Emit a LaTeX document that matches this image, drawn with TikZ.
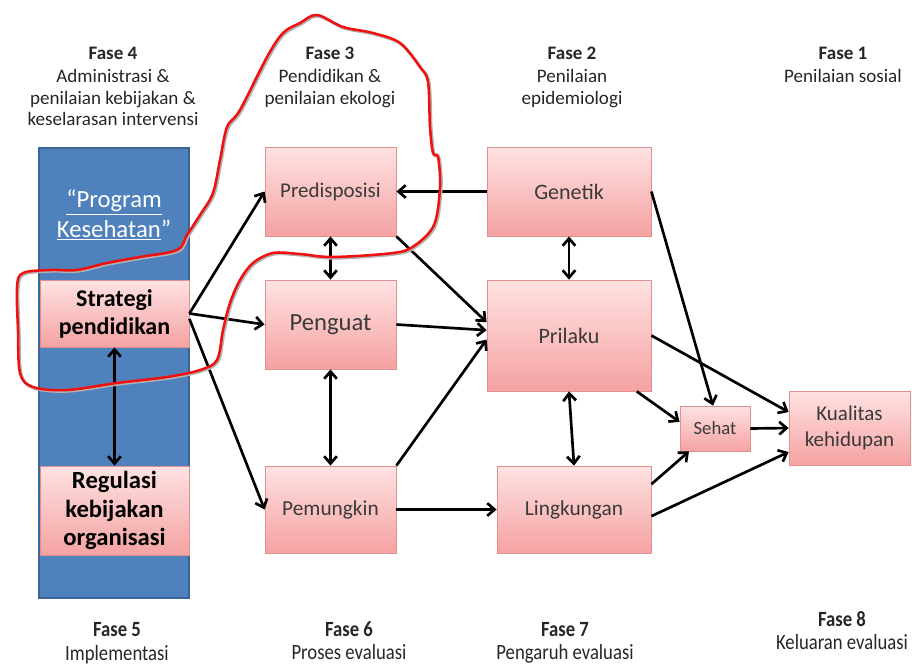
\documentclass[tikz,border=0pt]{standalone}
\usepackage{fontspec}
\setmainfont{Carlito}
\newfontfamily\condfont{Carlito}[FakeStretch=0.86]
\usetikzlibrary{arrows.meta,shadows,calc}
\definecolor{pinkTop}{HTML}{FFE2E2}
\definecolor{pinkBot}{HTML}{F5A2A2}
\definecolor{pinkLine}{HTML}{E09090}
\definecolor{blueFill}{HTML}{4F81BD}
\definecolor{blueLine}{HTML}{3B6598}
\definecolor{txt}{HTML}{3A3A3A}
\definecolor{redline}{HTML}{F01010}
\tikzset{
  box/.style={draw=pinkLine, line width=0.6pt, top color=pinkTop, bottom color=pinkBot,
    inner sep=0pt, align=center, text=txt,
    drop shadow={opacity=0.18, shadow xshift=0.9pt, shadow yshift=-0.9pt}},
  bbox/.style={box, text=black},
  hdr/.style={anchor=base, inner sep=0pt, text=black!85, font=\fontsize{14.3}{16}\selectfont},
  ftr/.style={anchor=base, inner sep=0pt, text=black!85, font=\condfont\fontsize{16.3}{17}\selectfont},
  arr/.style={line width=2pt, -{Straight Barb[length=5.5pt,width=9.5pt]}},
  darr/.style={line width=2pt, {Straight Barb[length=5.5pt,width=9.5pt]}-{Straight Barb[length=5.5pt,width=9.5pt]}},
}
\begin{document}
\begin{tikzpicture}[x=0.75pt,y=-0.75pt]
\useasboundingbox (0,0) rectangle (912,665);
\clip (0,0) rectangle (912,665);

% blue column
\draw[draw=blueLine, line width=0.8pt, fill=blueFill] (39,148) rectangle (189,598);
\node[text=white, align=center, inner sep=0pt, font=\fontsize{18.5}{22}\selectfont] (prog) at (114,215)
  {\underline{“Program}\\\underline{Kesehatan}”};

% boxes
\node[bbox, minimum width=111.75pt, minimum height=50.25pt, font=\bfseries\fontsize{18}{21}\selectfont] (strat) at (114.5,313.5) {Strategi\\pendidikan};
\node[bbox, minimum width=111.75pt, minimum height=66.75pt, font=\bfseries\fontsize{18.5}{21.5}\selectfont] (reg) at (114.5,510.5) {Regulasi\\kebijakan\\organisasi};
\node[box, minimum width=98.25pt, minimum height=66.75pt, font=\fontsize{15.75}{18}\selectfont] (pred) at (330.5,191.5) {Predisposisi};
\node[box, minimum width=98.25pt, minimum height=66.75pt, font=\fontsize{18.5}{21}\selectfont] (peng) at (330.5,324.5) {Penguat};
\node[box, minimum width=98.25pt, minimum height=65.25pt, font=\fontsize{16}{18}\selectfont] (pem) at (330.5,509.5) {Pemungkin};
\node[box, minimum width=123pt, minimum height=66.75pt, font=\fontsize{16.5}{19}\selectfont] (gen) at (569,191.5) {Genetik};
\node[box, minimum width=123pt, minimum height=83.25pt, font=\fontsize{16.5}{19}\selectfont] (pril) at (569,335.5) {Prilaku};
\node[box, minimum width=115.5pt, minimum height=65.25pt, font=\fontsize{16}{18}\selectfont] (ling) at (574,509.5) {Lingkungan};
\node[box, minimum width=52.5pt, minimum height=33.75pt, font=\fontsize{14}{16}\selectfont] (sehat) at (715,428.5) {Sehat};
\node[box, minimum width=90.75pt, minimum height=55.5pt, font=\fontsize{15.75}{19}\selectfont] (kual) at (849.5,428) {Kualitas\\kehidupan};

% arrows
\draw[arr] (strat.east) -- (pred.west);
\draw[arr] (strat.east) -- (peng.west);
\draw[arr] ([yshift=-4pt]strat.east) -- (pem.west);
\draw[darr] (strat.south) -- (reg.north);
\draw[darr] (pred.south) -- (peng.north);
\draw[darr] (peng.south) -- (pem.north);
\draw[arr] (gen.west) -- (pred.east);
\draw[darr] (gen.south) -- (pril.north);
\draw[arr] (pred.south east) -- ([yshift=10pt]pril.west);
\draw[arr] (peng.east) -- ([yshift=4pt]pril.west);
\draw[arr] (pem.north east) -- ([yshift=-3pt]pril.west);
\draw[arr] (pem.east) -- (ling.west);
\draw[darr] (pril.south) -- (ling.north);
\draw[arr] (gen.east) -- ([xshift=-1.5pt]sehat.north);
\draw[arr] (pril.east) -- ([yshift=12pt]kual.west);
\draw[arr] ([xshift=-11pt]pril.south east) -- ([yshift=5pt]sehat.west);
\draw[arr] (sehat.east) -- (kual.west);
\draw[arr] ([yshift=19pt]ling.east) -- ([xshift=7pt]sehat.south west);
\draw[arr] ([yshift=-5pt]ling.east) -- ([yshift=-18pt]kual.west);

% headers
\node[hdr] (f4) at (113,59) {\textbf{Fase 4}};
\node[hdr] (f4a) at (113,82) {Administrasi \&};
\node[hdr] (f4b) at (113,104) {penilaian kebijakan \&};
\node[hdr] (f4c) at (113,125) {keselarasan intervensi};
\node[hdr] (f3) at (330,59) {\textbf{Fase 3}};
\node[hdr] (f3a) at (330,82) {Pendidikan \&};
\node[hdr] (f3b) at (330,104) {penilaian ekologi};
\node[hdr] (f2) at (572,59) {\textbf{Fase 2}};
\node[hdr] (f2a) at (572,82) {Penilaian};
\node[hdr] (f2b) at (572,104) {epidemiologi};
\node[hdr] (f1) at (843,59) {\textbf{Fase 1}};
\node[hdr] (f1a) at (843,82) {Penilaian sosial};

% footers
\node[ftr] (f5) at (117,636) {\textbf{Fase 5}};
\node[ftr] (f5a) at (117,660) {Implementasi};
\node[ftr] (f6) at (349,636) {\textbf{Fase 6}};
\node[ftr] (f6a) at (349,659) {Proses evaluasi};
\node[ftr] (f7) at (565,636) {\textbf{Fase 7}};
\node[ftr] (f7a) at (565,659) {Pengaruh evaluasi};
\node[ftr] (f8) at (842,626) {\textbf{Fase 8}};
\node[ftr] (f8a) at (842,649) {Keluaran evaluasi};

% red freehand annotation
\def\redpath{plot[smooth cycle, tension=0.55] coordinates {
 (300,23) (317,15) (343,27) (373,33) (400,43) (420,67) (428,82) (430,127) (433,153) (438,157)
 (440,187) (434,225) (414,246) (393,253) (333,257) (300,254) (273,253) (253,263) (240,280)
 (230,303) (223,330) (217,360) (200,370) (167,377) (117,383) (67,390) (33,387) (20,373)
 (18,330) (17,287) (23,273) (50,270) (77,270) (107,263) (140,257) (177,250) (187,235)
 (200,215) (213,193) (220,160) (227,127) (240,110) (267,57) (283,33)}}
\draw[black!30, line width=2.2pt, shift={(1.2,1.2)}] \redpath;
\draw[redline, line width=1.9pt] \redpath;
\end{tikzpicture}
\end{document}
